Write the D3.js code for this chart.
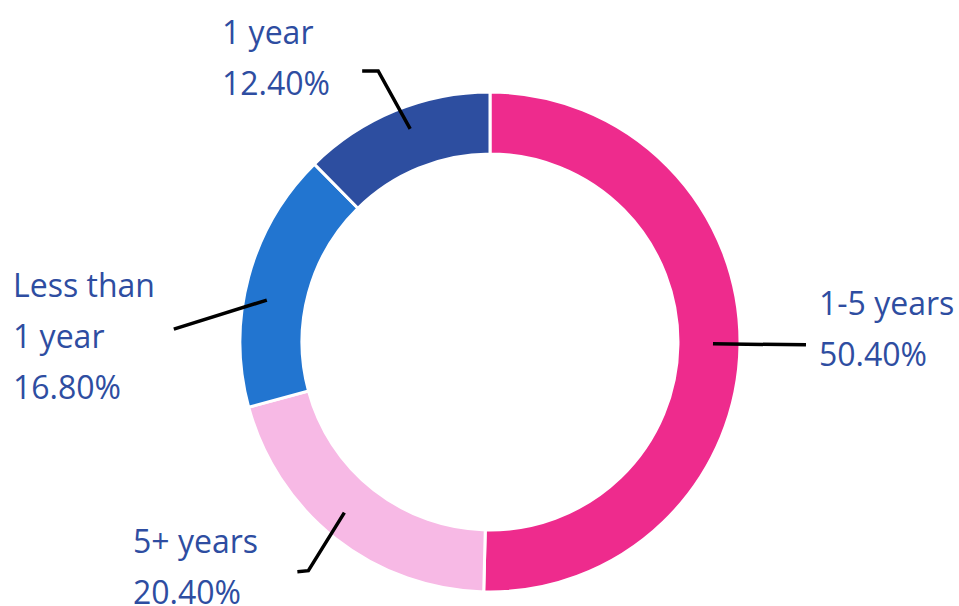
<!DOCTYPE html>
<html>
<head>
<meta charset="utf-8">
<style>
  body { margin: 0; background: #fff; }
  svg { display: block; }
  .lbl { font-family: "Open Sans", sans-serif; font-size: 32px; fill: #2e4da1; }
</style>
<script src="https://cdn.jsdelivr.net/npm/d3@7"></script>
</head>
<body>
<svg width="959" height="606"></svg>
<script>
// slices, clockwise from 12 o'clock
var categories = ["1-5 years", "5+ years", "Less than 1 year", "1 year"];
var values = [50.4, 20.4, 16.8, 12.4];
var colors = ["#ee2b8d", "#f7b9e5", "#2275d0", "#2d4ea0"];
var labelLines = [["1-5 years", "50.40%"], ["5+ years", "20.40%"], ["Less than", "1 year", "16.80%"], ["1 year", "12.40%"]];

var svg = d3.select("svg"),
    cx = 490, cy = 342,
    rOuter = 250, rInner = 188;

var g = svg.append("g").attr("transform", "translate(" + cx + "," + cy + ")");

var data = categories.map(function(c, i) { return {name: c, value: values[i], i: i}; });

var pie = d3.pie().sort(null).value(function(d) { return d.value; });
var arcs = pie(data);

var arc = d3.arc().innerRadius(rInner).outerRadius(rOuter);

g.selectAll("path")
  .data(arcs)
  .enter().append("path")
    .attr("d", arc)
    .attr("fill", function(d) { return colors[d.data.i]; })
    .attr("stroke", "#fff")
    .attr("stroke-width", 3);

// leader lines: start inside the ring, then go out to the label
var anchorArc = d3.arc().innerRadius(226).outerRadius(226);
// nudge of the start, then elbow and end relative to the start
var leader = [
  [[-3, -1], [93, 1], [93, 1]],
  [[-6, -7], [-36, 58], [-47, 59]],
  [[-5, 17], [-93, 29], [-93, 29]],
  [[6, -4], [-32, -58], [-48, -58]]
];
// label anchors (left x, first baseline) relative to the center
var labelPos = [[329, -27], [-357, 211], [-477, -45], [-268, -298]];

var line = d3.line();
arcs.forEach(function(d, i) {
  var c = anchorArc.centroid(d),
      p = [c[0] + leader[i][0][0], c[1] + leader[i][0][1]];
  var pts = [p, [p[0] + leader[i][1][0], p[1] + leader[i][1][1]], [p[0] + leader[i][2][0], p[1] + leader[i][2][1]]];
  g.append("path")
    .attr("d", line(pts))
    .attr("fill", "none")
    .attr("stroke", "#000")
    .attr("stroke-width", 3.5);

  var t = g.append("text")
    .attr("class", "lbl")
    .attr("x", labelPos[i][0])
    .attr("y", labelPos[i][1]);
  labelLines[i].forEach(function(s, k) {
    t.append("tspan")
      .attr("x", labelPos[i][0])
      .attr("dy", k == 0 ? 0 : 51)
      .text(s);
  });
});
</script>
</body>
</html>
